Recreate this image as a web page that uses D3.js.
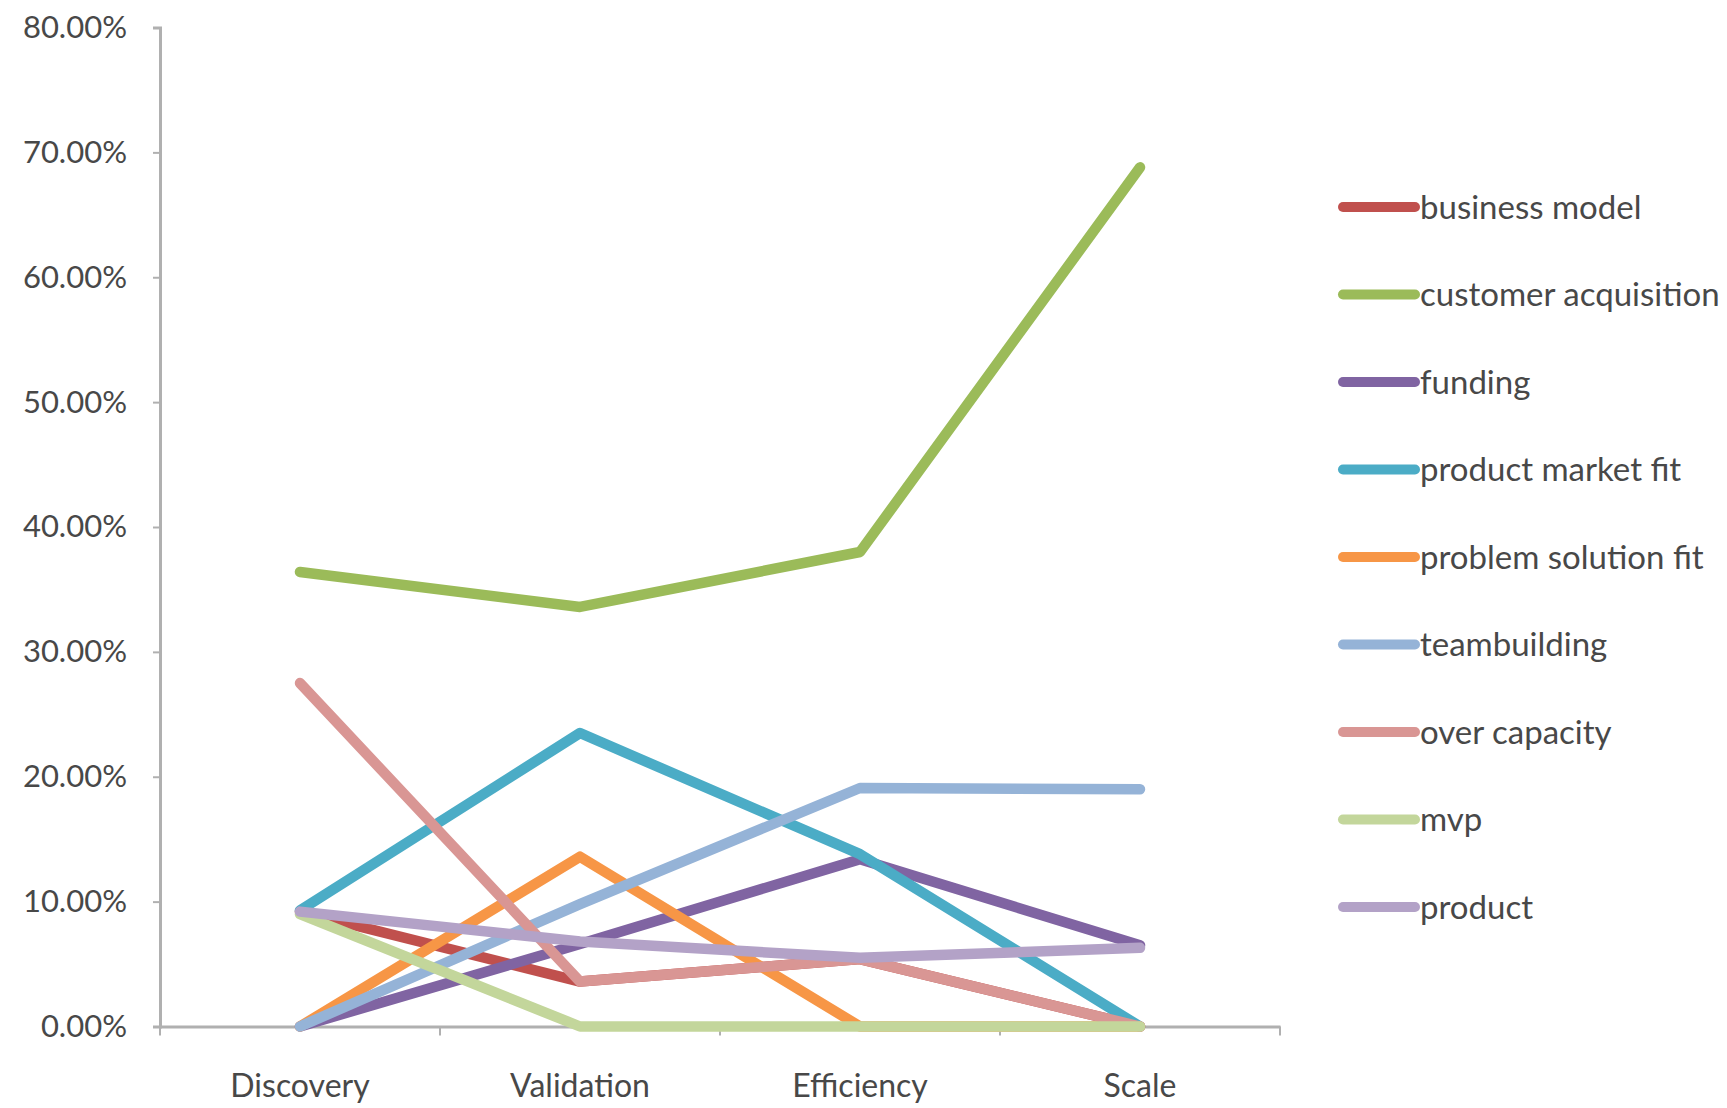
<!DOCTYPE html>
<html><head><meta charset="utf-8">
<script src="https://cdn.jsdelivr.net/npm/d3@7"></script>
<style>html,body{margin:0;padding:0;background:#fff;}svg{display:block;}</style>
</head><body>
<svg id="chart" width="1727" height="1108"></svg>
<script>
const categories = ["Discovery", "Validation", "Efficiency", "Scale"];
const seriesNames = ["business model","customer acquisition","funding","product market fit","problem solution fit","teambuilding","over capacity","mvp","product"];
const businessModel      = [9.2, 3.6, 5.4, 0];
const customerAcq        = [36.4, 33.6, 38.0, 68.8];
const funding            = [0, 6.6, 13.4, 6.5];
const productMarketFit   = [9.3, 23.5, 13.8, 0];
const problemSolutionFit = [0, 13.6, 0, 0];
const teambuilding       = [0, 9.8, 19.1, 19.0];
const overCapacity       = [27.5, 3.6, 5.4, 0];
const mvp                = [9.0, 0, 0, 0];
const product            = [9.2, 6.8, 5.5, 6.3];
const yTicks = [0,10,20,30,40,50,60,70,80];
const colors = ["#c0504d","#9bbb59","#8064a2","#4bacc6","#f79646","#95b3d7","#d99694","#c3d69b","#b3a2c7"];

const values = [businessModel, customerAcq, funding, productMarketFit, problemSolutionFit, teambuilding, overCapacity, mvp, product];
const series = seriesNames.map((n,i)=>({name:n, color:colors[i], values:values[i]}));

const svg = d3.select("#chart");
const font = "Lato, 'Open Sans', sans-serif";
const textColor = "#484848";
const axisColor = "#b0b0b0";

const x = d3.scaleBand().domain(categories).range([160, 1280]);
const y = d3.scaleLinear().domain([0, 80]).range([1026.5, 27.5]);

// y axis
const yAxis = d3.axisLeft(y).tickValues(yTicks).tickFormat(d => d.toFixed(2) + "%").tickSize(7).tickPadding(26);
const gy = svg.append("g").attr("transform", "translate(160,0)").call(yAxis);
gy.select(".domain").attr("stroke", axisColor).attr("stroke-width", 3);
gy.selectAll(".tick line").attr("stroke", axisColor).attr("stroke-width", 2);
gy.selectAll("text").attr("font-family", font).attr("font-size", 31).attr("fill", textColor);

// x axis
const xAxis = d3.axisBottom(x).tickSize(0).tickPadding(0);
const gx = svg.append("g").attr("transform", "translate(0,1026.5)").call(xAxis);
gx.select(".domain").attr("stroke", axisColor).attr("stroke-width", 3);
gx.selectAll(".tick text").attr("font-family", font).attr("font-size", 32).attr("fill", textColor).attr("dy", "0").attr("y", 70);
// band boundary ticks
const edges = categories.map(c => x(c)).concat([x.range()[1]]);
gx.selectAll(".edge").data(edges).enter().append("line")
  .attr("x1", d=>d).attr("x2", d=>d).attr("y1", 0).attr("y2", 9)
  .attr("stroke", axisColor).attr("stroke-width", 2);

// lines
const line = d3.line().x((d,i)=>x(categories[i]) + x.bandwidth()/2).y(d=>y(d));
svg.append("g").selectAll("path").data(series).enter().append("path")
  .attr("d", d => line(d.values))
  .attr("fill", "none")
  .attr("stroke", d => d.color)
  .attr("stroke-width", 10.5)
  .attr("stroke-linejoin", "round")
  .attr("stroke-linecap", "round");

// legend
const leg = svg.append("g").attr("transform", "translate(1343,207)");
const items = leg.selectAll("g").data(series).enter().append("g")
  .attr("transform", (d,i)=>`translate(0,${i*87.5})`);
items.append("line").attr("x1", 0).attr("x2", 72).attr("y1", 0).attr("y2", 0)
  .attr("stroke", d=>d.color).attr("stroke-width", 10).attr("stroke-linecap", "round");
items.append("text").attr("x", 77).attr("y", 0).attr("dy", "0.35em")
  .attr("font-family", font).attr("font-size", 33).attr("fill", textColor)
  .text(d=>d.name);
</script>
</body></html>
